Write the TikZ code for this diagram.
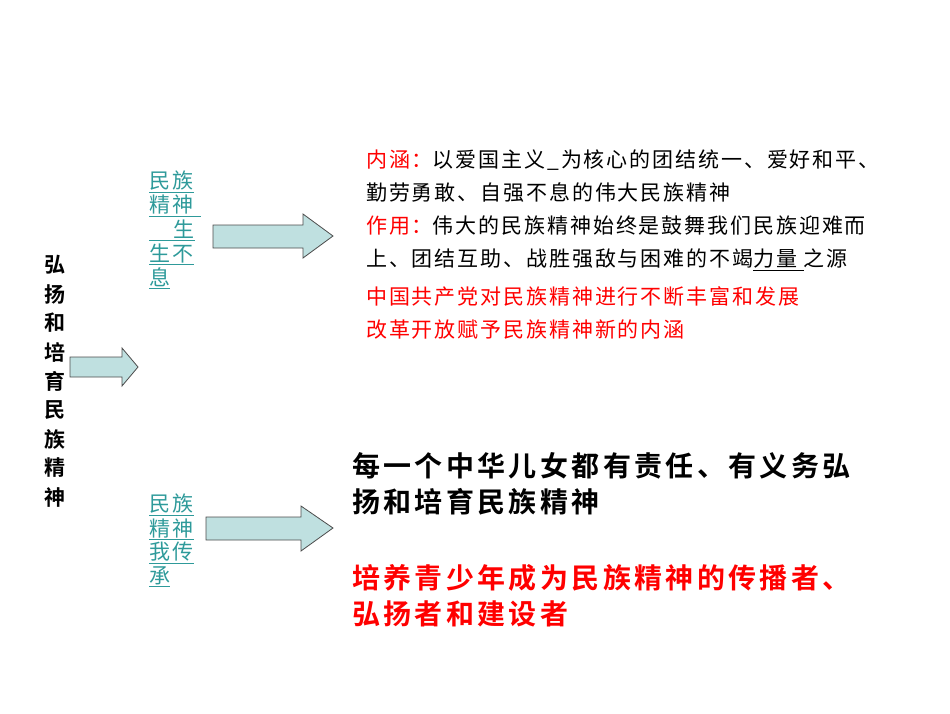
\documentclass[tikz,border=0pt]{standalone}
\usepackage{fontspec}
\newfontfamily\cjk[LetterSpace=9]{Noto Sans CJK SC}
\newfontfamily\cjkl[LetterSpace=11]{Noto Sans CJK SC}
\newfontfamily\cjkb{Noto Sans CJK SC Bold}
\newfontfamily\cjkbs[LetterSpace=12]{Noto Sans CJK SC Bold}
\usepackage{xcolor}
\definecolor{teal1}{HTML}{2E9A9A}
\definecolor{afill}{HTML}{BFE0E0}
\definecolor{red1}{HTML}{FF0000}
\begin{document}
\begin{tikzpicture}[x=1pt,y=-1pt,
  fat/.style={draw=black!70,fill=afill,line width=0.8pt},
  lnk/.style={anchor=west,inner sep=0,text=teal1,font=\cjkl\fontsize{21}{21}\selectfont},
  txt/.style={anchor=west,inner sep=0,font=\cjk\fontsize{21}{21}\selectfont},
  big/.style={anchor=west,inner sep=0,font=\cjkbs\fontsize{28}{28}\selectfont}]
\useasboundingbox (0,0) rectangle (950,713);
% vertical title
\foreach \c [count=\i] in {弘,扬,和,培,育,民,族,精,神}
  \node[inner sep=0,font=\cjkb\fontsize{21}{21}\selectfont] (v\i) at (55,{236+29*\i}) {\c};
% arrows
\draw[fat] (70,357) -- (122,357) -- (122,348) -- (138,367) -- (122,386) -- (122,377) -- (70,377) -- cycle;
\draw[fat] (213,225) -- (303,225) -- (303,214) -- (333,236) -- (303,258) -- (303,248) -- (213,248) -- cycle;
\draw[fat] (206,517) -- (301,517) -- (301,506) -- (333,528) -- (301,551) -- (301,540) -- (206,540) -- cycle;
% links
\node[lnk] (l1) at (149,182) {\underline{民族}};
\node[lnk] (l2) at (149,206) {\underline{精神\ }};
\node[lnk] (l3) at (149,230) {\underline{\hphantom{生}\,生}};
\node[lnk] (l4) at (149,254) {\underline{生不}};
\node[lnk] (l5) at (149,278) {\underline{息}};
\node[lnk] (m1) at (149,505) {\underline{民族}};
\node[lnk] (m2) at (149,529) {\underline{精神}};
\node[lnk] (m3) at (149,553) {\underline{我传}};
\node[lnk] (m4) at (149,577) {\underline{承}};
% right text
\node[txt] (t1) at (366,160) {\textcolor{red1}{内涵：}以爱国主义\_为核心的团结统一、爱好和平、};
\node[txt] (t2) at (366,192) {勤劳勇敢、自强不息的伟大民族精神};
\node[txt] (t3) at (366,226) {\textcolor{red1}{作用：}伟大的民族精神始终是鼓舞我们民族迎难而};
\node[txt] (t4) at (366,260) {上、团结互助、战胜强敌与困难的不竭\underline{力量\ }之源};
\node[txt,text=red1] (t5) at (366,296) {中国共产党对民族精神进行不断丰富和发展};
\node[txt,text=red1] (t6) at (366,330) {改革开放赋予民族精神新的内涵};
\node[big] (b1) at (352,466) {每一个中华儿女都有责任、有义务弘};
\node[big] (b2) at (352,502) {扬和培育民族精神};
\node[big,text=red1] (b3) at (352,578) {培养青少年成为民族精神的传播者、};
\node[big,text=red1] (b4) at (352,614) {弘扬者和建设者};
\end{tikzpicture}
\end{document}
